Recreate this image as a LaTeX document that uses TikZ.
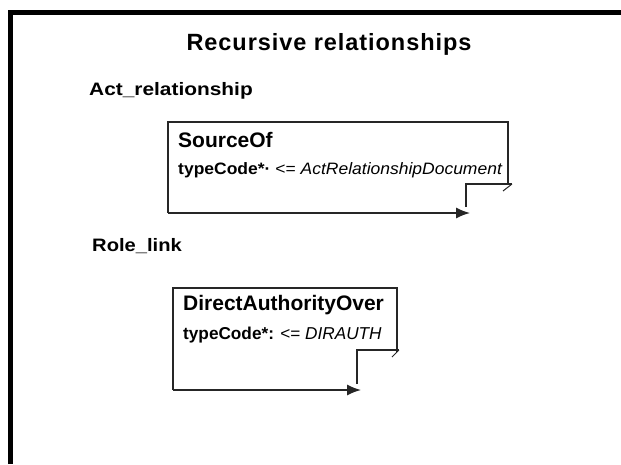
\documentclass[tikz,border=0pt]{standalone}
\usepackage{fontspec}
\setmainfont{Liberation Sans}
\usetikzlibrary{arrows.meta}
\newcommand{\widen}[2]{\scalebox{#1}[1]{#2}}
\begin{document}
\begin{tikzpicture}[x=1pt,y=-1pt,
  frameline/.style={line width=4.5pt,line cap=butt},
  boxline/.style={line width=1.4pt,draw=black!85},
  tick/.style={line width=1pt,draw=black!85},
  ttl/.style={font=\bfseries\fontsize{23.5}{26}\selectfont\addfontfeature{LetterSpace=4},inner sep=0pt},
  sect/.style={font=\bfseries\fontsize{18}{21}\selectfont,inner sep=0pt,anchor=west},
  bname/.style={font=\bfseries\fontsize{21}{24}\selectfont,inner sep=0pt,anchor=west},
  battr/.style={font=\fontsize{16.5}{19}\selectfont,inner sep=0pt,anchor=west},
  loop/.style={boxline,-{Latex[length=14pt,width=11pt]}}]
\useasboundingbox (0,0) rectangle (621,464);
% outer frame (cropped at right and bottom)
\draw[frameline] (10.5,464) -- (10.5,12.5) -- (621,12.5);
% texts
\node[ttl] (title) at (329,44) {Recursive relationships};
\node[sect] (act) at (89,91) {\widen{1.16}{Act\_relationship}};
\node[sect] (role) at (92,246) {\widen{1.12}{Role\_link}};
% box 1
\coordinate (a1) at (168,122);
\coordinate (a2) at (508,122);
\coordinate (a3) at (508,184);
\coordinate (a4) at (466,184);
\coordinate (a5) at (168,213);
\coordinate (a6) at (470,213);
\coordinate (a7) at (512,184);
\coordinate (a8) at (503,191);
\draw[boxline] (a3) -- (a2) -- (a1) -- (a5);
\draw[loop] (a5) -- (a6);
\draw[boxline] (466,207) -- (a4) -- (a7);
\draw[tick] (a7) -- (a8);
\node[bname] (src) at (178,140) {SourceOf};
\node[battr] (srcattr) at (178,170) {\widen{1.06}{\textbf{typeCode*·} <= \textit{ActRelationshipDocument}}};
% box 2
\coordinate (b1) at (173,288);
\coordinate (b2) at (397,288);
\coordinate (b3) at (397,352);
\coordinate (b4) at (357,350);
\coordinate (b5) at (173,390);
\coordinate (b6) at (361,390);
\coordinate (b7) at (399,350);
\coordinate (b8) at (392,357);
\draw[boxline] (b3) -- (b2) -- (b1) -- (b5);
\draw[loop] (b5) -- (b6);
\draw[boxline] (357,384) -- (b4) -- (b7);
\draw[tick] (b7) -- (b8);
\node[bname] (dao) at (183,305) {DirectAuthorityOver};
\node[battr,font=\fontsize{17.2}{20}\selectfont] (daoattr) at (183,335) {\textbf{typeCode*:} <= \textit{DIRAUTH}};
\end{tikzpicture}
\end{document}
